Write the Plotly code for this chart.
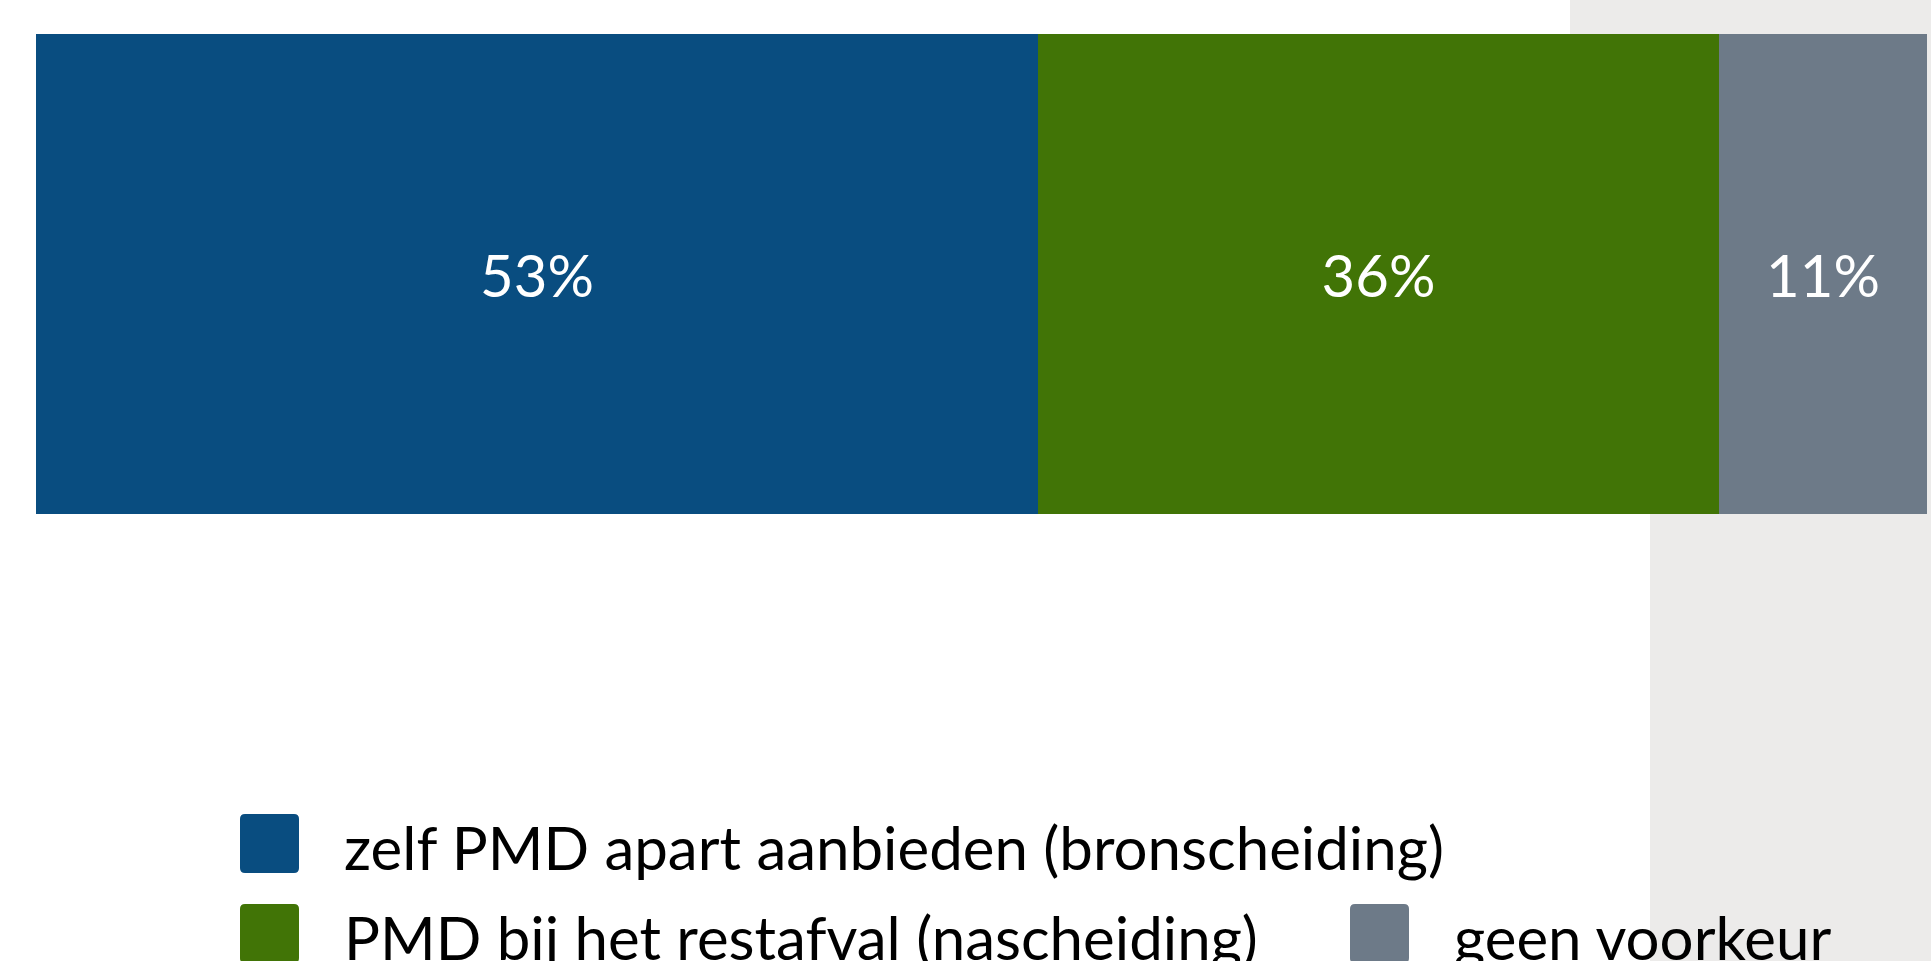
"""PMD voorkeur - gestapelde 100% balk met eigen legenda"""

import plotly.graph_objects as go

# data
categories = [
    "zelf PMD apart aanbieden (bronscheiding)",
    "PMD bij het restafval (nascheiding)",
    "geen voorkeur",
]
percentages = [53, 36, 11]
colors = ["#094D80", "#417406", "#6D7A88"]

W, H = 1931, 961
ML, MR, MT, MB = 36, 4, 34, 447
PW, PH = W - ML - MR, H - MT - MB


def px_x(x):
    """pixel -> paper (x)"""
    return (x - ML) / PW


def px_y(y):
    """pixel -> paper (y)"""
    return (H - MB - y) / PH


def rounded_square(x0, y0, size, r):
    """rounded square path in paper coordinates, pixel input"""
    x1, y1 = x0 + size, y0 + size
    X, Y = px_x, px_y
    return (
        f"M{X(x0 + r)},{Y(y0)} L{X(x1 - r)},{Y(y0)} Q{X(x1)},{Y(y0)} {X(x1)},{Y(y0 + r)} "
        f"L{X(x1)},{Y(y1 - r)} Q{X(x1)},{Y(y1)} {X(x1 - r)},{Y(y1)} "
        f"L{X(x0 + r)},{Y(y1)} Q{X(x0)},{Y(y1)} {X(x0)},{Y(y1 - r)} "
        f"L{X(x0)},{Y(y0 + r)} Q{X(x0)},{Y(y0)} {X(x0 + r)},{Y(y0)} Z"
    )


fig = go.Figure()
for name, val, col in zip(categories, percentages, colors):
    fig.add_trace(
        go.Bar(
            x=[val],
            y=[""],
            orientation="h",
            name=name,
            marker=dict(color=col, line=dict(width=0)),
            text=[f"{val}%"],
            textposition="inside",
            insidetextanchor="middle",
            textangle=0,
            textfont=dict(family="Lato", size=58, color="white"),
            showlegend=False,
        )
    )

# achtergrond (grijze pagina rechts)
shapes = [
    dict(type="rect", xref="paper", yref="paper", layer="below", line_width=0,
         fillcolor="#ECEBEA", x0=px_x(1650), x1=px_x(W), y0=px_y(H), y1=px_y(0)),
    dict(type="rect", xref="paper", yref="paper", layer="below", line_width=0,
         fillcolor="#ECEBEA", x0=px_x(1570), x1=px_x(W), y0=px_y(MT), y1=px_y(0)),
]

# legenda
legend_pos = [(240, 814), (240, 904), (1350, 904)]
annotations = []
for (sx, sy), name, col in zip(legend_pos, categories, colors):
    shapes.append(
        dict(type="path", xref="paper", yref="paper", path=rounded_square(sx, sy, 59, 5),
             fillcolor=col, line_width=0)
    )
    annotations.append(
        dict(text=name, xref="paper", yref="paper", x=px_x(sx + 102), y=px_y(sy + 33),
             xanchor="left", yanchor="middle", showarrow=False,
             font=dict(family="Lato", size=60, color="#000000"))
    )

fig.update_layout(
    width=W,
    height=H,
    barmode="stack",
    bargap=0,
    margin=dict(l=ML, r=MR, t=MT, b=MB, pad=0),
    paper_bgcolor="white",
    plot_bgcolor="white",
    xaxis=dict(range=[0, 100], visible=False, fixedrange=True),
    yaxis=dict(range=[-0.5, 0.5], visible=False, fixedrange=True),
    shapes=shapes,
    annotations=annotations,
    showlegend=False,
)

fig.write_html(
    "out.html",
    config={"displayModeBar": False},
    post_script="document.body.style.margin='0';",
)
